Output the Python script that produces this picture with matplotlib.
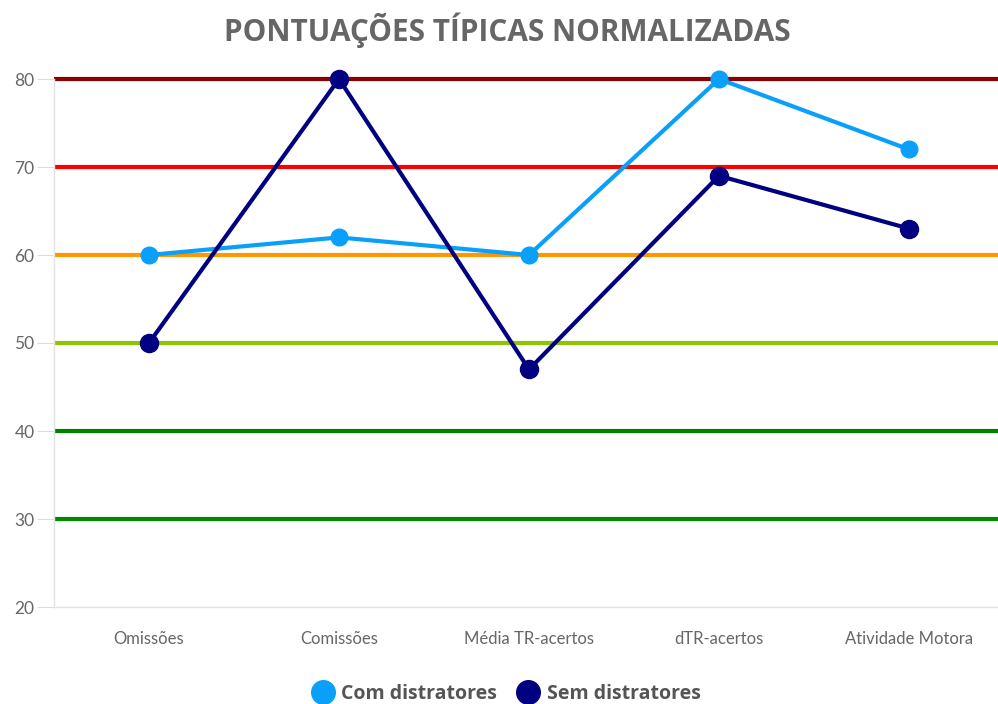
import matplotlib.pyplot as plt
from matplotlib.lines import Line2D

categories = ['Omissões', 'Comissões', 'Média TR-acertos', 'dTR-acertos', 'Atividade Motora']
com_distratores = [60, 62, 60, 80, 72]
sem_distratores = [50, 80, 47, 69, 63]

# faixas de referencia
ref_levels = [30, 40, 50, 60, 70, 80]
ref_colors = ['#008a00', '#008000', '#8fc400', '#ff9800', '#ff0000', '#8b0000']

plt.rcParams['font.family'] = ['Lato', 'DejaVu Sans']

fig = plt.figure(figsize=(9.98, 7.04), dpi=100)
ax = fig.add_axes([54 / 998, 97 / 704, 950 / 998, 528 / 704])

x = list(range(len(categories)))

for lvl, col in zip(ref_levels, ref_colors):
    ax.axhline(lvl, color=col, linewidth=3, zorder=1, clip_on=False, solid_capstyle='butt')

light = '#0aa0fa'
dark = '#000080'
ax.plot(x, com_distratores, color=light, linewidth=3, marker='o', markersize=12,
        zorder=3, clip_on=False)
ax.plot(x, sem_distratores, color=dark, linewidth=3, marker='o', markersize=13,
        zorder=4, clip_on=False)

ax.set_xlim(-0.5, 4.5)
ax.set_ylim(20, 80)
ax.set_yticks([20, 30, 40, 50, 60, 70, 80])
ax.set_xticks(x)
ax.set_xticklabels(categories)

for s in ['top', 'right']:
    ax.spines[s].set_visible(False)
ax.spines['left'].set_color('#e3e3e3')
ax.spines['bottom'].set_color('#e3e3e3')
ax.spines['left'].set_linewidth(1)
ax.spines['bottom'].set_linewidth(1)

ax.tick_params(axis='y', length=12, color='#dddddd', labelsize=12.5, labelcolor='#666666', pad=2)
ax.tick_params(axis='x', length=0, labelsize=12, labelcolor='#666666', pad=17)

fig.text(507 / 998, 1 - 30 / 704, 'PONTUAÇÕES TÍPICAS NORMALIZADAS', ha='center', va='center',
         fontsize=21.4, fontweight='bold', color='#666666', family=['Open Sans', 'DejaVu Sans'])

handles = [
    Line2D([], [], color=light, marker='o', linestyle='none', markersize=17),
    Line2D([], [], color=dark, marker='o', linestyle='none', markersize=17),
]
leg = fig.legend(handles, ['Com distratores', 'Sem distratores'], loc='center',
                 bbox_to_anchor=(506 / 998, 1 - 694 / 704), ncol=2, frameon=False,
                 handletextpad=0.35, columnspacing=1.0, handlelength=1.2,
                 prop={'weight': 'bold', 'size': 14, 'family': ['Open Sans', 'DejaVu Sans']})
for t in leg.get_texts():
    t.set_color('#555555')

fig.savefig('out.png', dpi=100)
